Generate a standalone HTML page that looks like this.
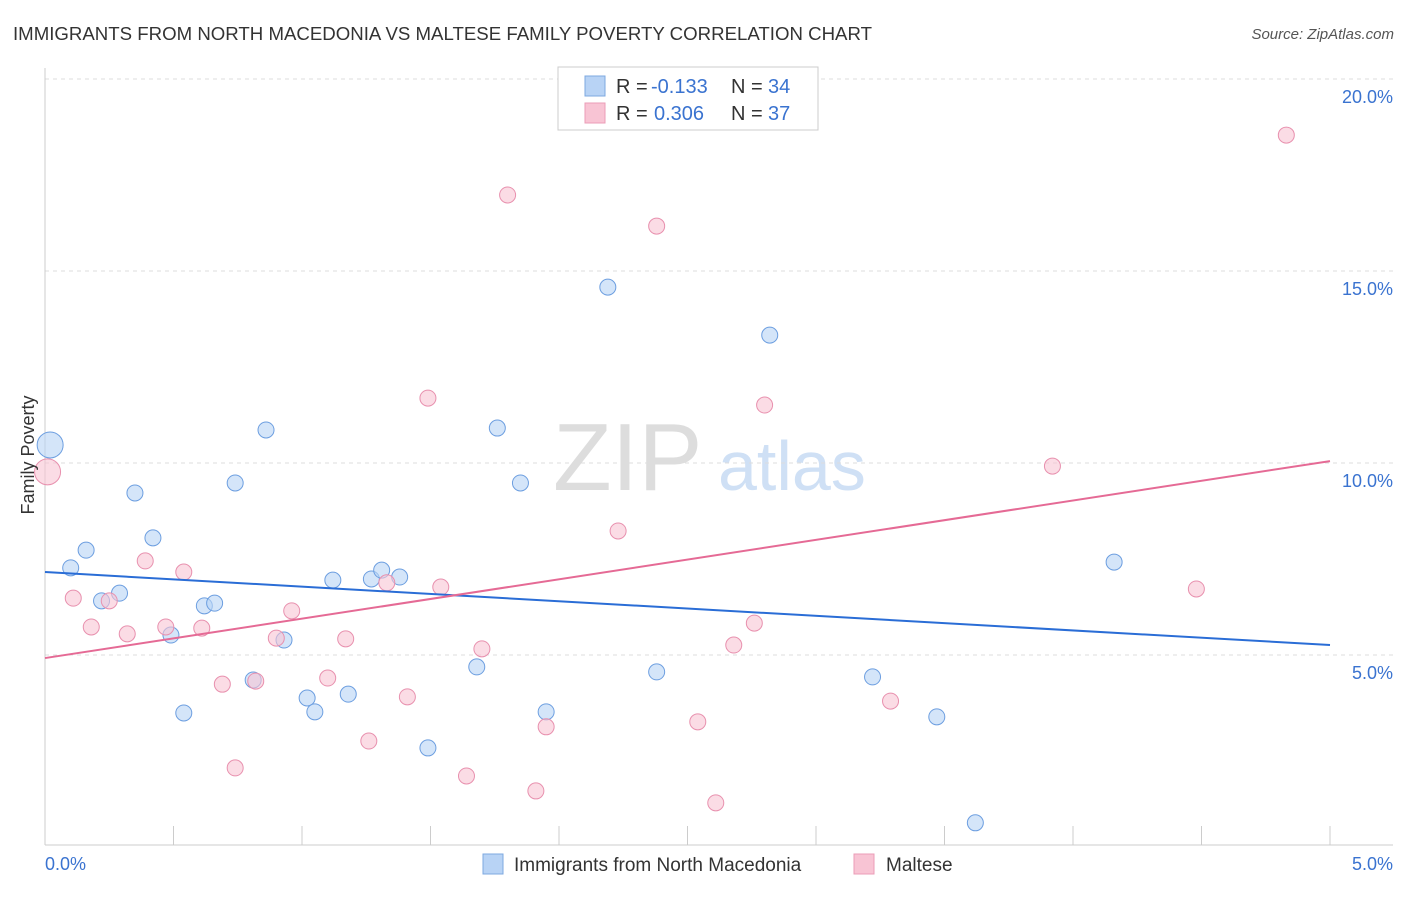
<!DOCTYPE html>
<html><head><meta charset="utf-8"><style>
body{margin:0;background:#fff;font-family:"Liberation Sans",sans-serif}
svg text{font-family:"Liberation Sans",sans-serif}
</style></head><body>
<svg id="c" width="1406" height="892" xmlns="http://www.w3.org/2000/svg">
<text x="13" y="40" font-size="18" fill="#333" textLength="859" lengthAdjust="spacingAndGlyphs">IMMIGRANTS FROM NORTH MACEDONIA VS MALTESE FAMILY POVERTY CORRELATION CHART</text>
<text x="1394" y="39" font-size="15" fill="#555" font-style="italic" text-anchor="end">Source: ZipAtlas.com</text>
<g><text x="553" y="490" font-size="96" font-family="Liberation Serif" fill="#ddd">ZIP</text><text x="718" y="490" font-size="70" fill="#cfe0f5">atlas</text></g>
<g id="grid"></g>
<g id="marks"></g>
<text transform="translate(34,455) rotate(-90)" font-size="18" fill="#333" text-anchor="middle">Family Poverty</text>
<g>
<rect x="558" y="67" width="260" height="63" fill="#fff" stroke="#ccc"/>
<rect x="585" y="76" width="20" height="20" fill="#b8d3f5" stroke="#7ea8e0"/>
<rect x="585" y="103" width="20" height="20" fill="#f8c4d4" stroke="#eb9db7"/>
<text x="616" y="93" font-size="20" fill="#333">R =</text>
<text x="651" y="93" font-size="20" fill="#3a73d0">-0.133</text>
<text x="731" y="93" font-size="20" fill="#333">N =</text>
<text x="768" y="93" font-size="20" fill="#3a73d0">34</text>
<text x="616" y="120" font-size="20" fill="#333">R =</text>
<text x="654" y="120" font-size="20" fill="#3a73d0">0.306</text>
<text x="731" y="120" font-size="20" fill="#333">N =</text>
<text x="768" y="120" font-size="20" fill="#3a73d0">37</text>
</g>
<g>
<rect x="483" y="854" width="20" height="20" fill="#b8d3f5" stroke="#7ea8e0"/>
<text x="514" y="871" font-size="19" fill="#333">Immigrants from North Macedonia</text>
<rect x="854" y="854" width="20" height="20" fill="#f8c4d4" stroke="#eb9db7"/>
<text x="886" y="871" font-size="19" fill="#333">Maltese</text>
</g>
</svg>
<script>
const blueX=[0.02,0.10,0.16,0.22,0.29,0.35,0.42,0.49,0.54,0.62,0.66,0.74,0.81,0.86,0.93,1.02,1.05,1.12,1.18,1.27,1.31,1.38,1.49,1.68,1.76,1.85,1.95,2.19,2.38,2.82,3.22,3.47,3.62,4.16];
const blueY=[10.47,7.27,7.73,6.41,6.61,9.22,8.05,5.52,3.49,6.28,6.35,9.48,4.35,10.86,5.39,3.88,3.52,6.95,3.98,6.98,7.21,7.03,2.58,4.69,10.91,9.48,3.52,14.58,4.56,13.33,4.43,3.39,0.63,7.42];
const pinkX=[0.01,0.11,0.18,0.25,0.32,0.39,0.47,0.54,0.61,0.69,0.74,0.82,0.90,0.96,1.10,1.17,1.26,1.33,1.41,1.49,1.54,1.64,1.70,1.80,1.91,1.95,2.23,2.38,2.54,2.61,2.68,2.76,2.80,3.29,3.92,4.48,4.83];
const pinkY=[9.77,6.48,5.73,6.41,5.55,7.45,5.73,7.16,5.70,4.24,2.06,4.32,5.44,6.15,4.40,5.42,2.76,6.88,3.91,11.69,6.77,1.85,5.16,16.98,1.46,3.13,8.23,16.17,3.26,1.15,5.26,5.83,11.51,3.80,9.92,6.72,18.54];
const blueTrend=[7.16,5.26];
const pinkTrend=[4.92,10.05];
const yTicks=[5,10,15,20];
const yTickLabels=["5.0%","10.0%","15.0%","20.0%"];
const NS="http://www.w3.org/2000/svg";
const sx=v=>45+v*257, sy=v=>847-v*38.4;
function mk(t,a,p){const e=document.createElementNS(NS,t);for(const k in a)e.setAttribute(k,a[k]);p.appendChild(e);return e;}
const g=document.getElementById('grid'), m=document.getElementById('marks');
yTicks.forEach((t,i)=>{
 const l=mk('line',{x1:45,x2:1393,y1:sy(t),y2:sy(t),stroke:'#ddd','stroke-dasharray':'4,4'},g);
 
 
 const tx=mk('text',{x:1393,y:sy(t)+24,'font-size':18,fill:'#3a73d0','text-anchor':'end'},g);
 tx.textContent=yTickLabels[i];
 
 
});
let a=mk('line',{x1:45,x2:45,y1:68,y2:845,stroke:'#ccc'},g);


a=mk('line',{x1:45,x2:1393,y1:845,y2:845,stroke:'#ccc'},g);


for(let i=0;i<=10;i++){const t=mk('line',{x1:sx(i*0.5),x2:sx(i*0.5),y1:826,y2:845,stroke:'#ccc'},g);
 
 }
let xl=mk('text',{x:45,y:870,'font-size':18,fill:'#3a73d0'},g);xl.textContent="0.0%";


xl=mk('text',{x:1393,y:870,'font-size':18,fill:'#3a73d0','text-anchor':'end'},g);xl.textContent="5.0%";


function pts(X,Y,fill,stroke,name){X.forEach((x,i)=>{const big=i===0;
 const c=mk('circle',{cx:sx(x),cy:sy(Y[i]),r:big?13:8,fill:fill,'fill-opacity':0.6,stroke:stroke,'stroke-width':1},m);
 
 });}
pts(blueX,blueY,'#b8d3f5','#6c9ee0','point-north-macedonia');
pts(pinkX,pinkY,'#f8c4d4','#e890ae','point-maltese');
let tl=mk('line',{x1:sx(0),y1:sy(blueTrend[0]),x2:sx(5),y2:sy(blueTrend[1]),stroke:'#2a6dd6','stroke-width':2},m);


tl=mk('line',{x1:sx(0),y1:sy(pinkTrend[0]),x2:sx(5),y2:sy(pinkTrend[1]),stroke:'#e56a95','stroke-width':2},m);


</script>
</body></html>
